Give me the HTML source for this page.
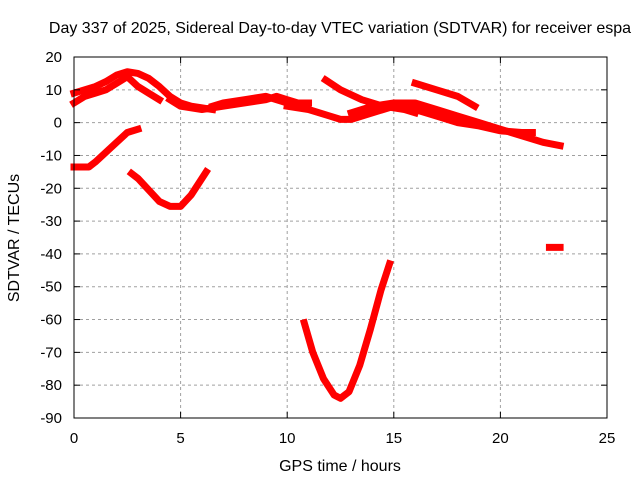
<!DOCTYPE html>
<html><head><meta charset="utf-8"><style>
body{margin:0;background:#fff}
svg{display:block;font-family:"Liberation Sans",sans-serif}
</style></head><body>
<svg id="chart" width="640" height="480">
<rect width="640" height="480" fill="#fff"/>
<text x="340" y="33" font-size="16" text-anchor="middle">Day 337 of 2025, Sidereal Day-to-day VTEC variation (SDTVAR) for receiver espa</text>
<text x="340" y="471" font-size="16" text-anchor="middle">GPS time / hours</text>
<text transform="translate(19,238) rotate(-90)" font-size="16" text-anchor="middle">SDTVAR / TECUs</text>
<g id="grid"></g><g id="series"></g><g id="axes"></g>
<rect x="74" y="57" width="533" height="361" fill="none" stroke="#000" stroke-width="1"/>
</svg>
<script>
const xTicks=[0,5,10,15,20,25];
const yTicks=[20,10,0,-10,-20,-30,-40,-50,-60,-70,-80,-90];
const trackA=[[0,9],[0.5,10],[1,11],[1.5,12.5],[2,14.5],[2.5,15.5],[3,15],[3.5,13.5],[4,11],[4.5,8],[5,6],[5.5,5],[6,4.5],[6.5,4]];
const trackB=[[0,6],[0.5,8],[1,9],[1.5,10],[2,12],[2.5,14],[3,11],[3.5,9],[4,7]];
const trackC=[[4.5,7],[5,5],[6,4],[7,5],[8,6],[9,7],[9.5,8],[10,7],[10.5,6],[11,6]];
const trackD=[[6.5,5],[7,6],[8,7],[9,8],[10,6]];
const trackE=[[10,5],[11,4],[12,2],[12.5,1],[13,1],[14,3],[15,5],[16,4],[17,3]];
const trackF=[[11.8,13],[12.5,10],[13.5,7],[14.5,5],[15.5,4],[16,3]];
const trackG=[[13,3],[14,5],[15,6],[16,6],[17,4],[18,2],[19,0],[20,-2],[21,-4],[22,-6],[22.8,-7]];
const trackH=[[16,12],[17,10],[18,8],[18.8,5]];
const trackI=[[16,4],[17,2],[18,0],[19,-1],[20,-2.5],[21,-3],[21.5,-3]];
const trackJ=[[0,-13.5],[0.7,-13.5],[1,-12],[1.5,-9],[2,-6],[2.5,-3],[3,-2]];
const trackK=[[2.7,-15.5],[3,-17],[3.5,-20.5],[4,-24],[4.5,-25.5],[5,-25.5],[5.5,-22],[6,-17],[6.2,-15]];
const trackL=[[10.8,-61],[11.2,-70],[11.7,-78],[12.2,-83],[12.5,-84],[12.9,-82],[13.4,-74],[13.9,-63],[14.4,-51],[14.8,-43]];
const trackM=[[22.3,-38],[22.8,-38]];
const tracks=[trackA,trackB,trackC,trackD,trackE,trackF,trackG,trackH,trackI,trackJ,trackK,trackL,trackM];
const X0=74,X1=607,Y0=418,Y1=57;
const sx=v=>X0+(v-0)/(25-0)*(X1-X0);
const sy=v=>Y0-(v+90)/(110)*(Y0-Y1);
const NS="http://www.w3.org/2000/svg";
const grid=document.getElementById('grid'),axes=document.getElementById('axes'),ser=document.getElementById('series');
function mk(tag,attrs,parent){const e=document.createElementNS(NS,tag);for(const k in attrs)e.setAttribute(k,attrs[k]);parent.appendChild(e);return e;}
xTicks.forEach(t=>{const x=sx(t);
 if(t>0&&t<25){const g=mk('line',{x1:x,x2:x,y1:Y1,y2:Y0,stroke:'#a0a0a0','stroke-dasharray':'3,3'},grid);
 
 }
 mk('line',{x1:x,x2:x,y1:Y0,y2:Y0-6,stroke:'#000'},axes);
 mk('line',{x1:x,x2:x,y1:Y1,y2:Y1+6,stroke:'#000'},axes);
 const l=mk('text',{x:x,y:Y0+25,'font-size':15,'text-anchor':'middle'},axes);l.textContent=t;
 
 
});
yTicks.forEach(t=>{const y=sy(t);
 if(t<20&&t>-90){const g=mk('line',{x1:X0,x2:X1,y1:y,y2:y,stroke:'#a0a0a0','stroke-dasharray':'3,3'},grid);
 
 }
 mk('line',{x1:X0,x2:X0+6,y1:y,y2:y,stroke:'#000'},axes);
 mk('line',{x1:X1,x2:X1-6,y1:y,y2:y,stroke:'#000'},axes);
 const l=mk('text',{x:X0-12,y:y+5,'font-size':15,'text-anchor':'end'},axes);l.textContent=t;
 
 
});
tracks.forEach(tr=>{
 const p=mk('polyline',{points:tr.map(d=>sx(d[0])+','+sy(d[1])).join(' '),fill:'none',stroke:'#ff0000','stroke-width':7,'stroke-linejoin':'round','stroke-linecap':'square'},ser);
 
 
});
</script>
</body></html>
